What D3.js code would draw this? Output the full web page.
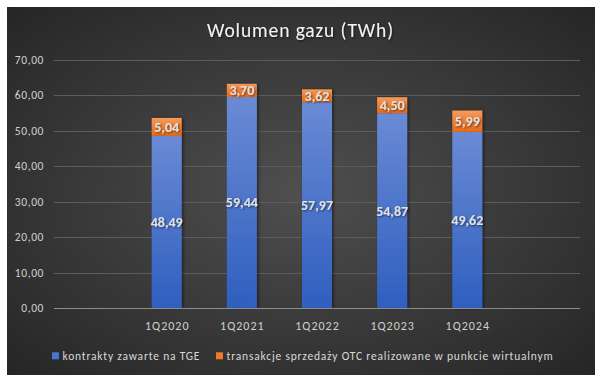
<!DOCTYPE html>
<html><head><meta charset="utf-8">
<script src="https://cdn.jsdelivr.net/npm/d3@7"></script>
<style>html,body{margin:0;padding:0;background:#fff;}svg{display:block;}</style>
</head><body>
<svg id="c" width="604" height="383"></svg>
<script>
const categories = ["", "1Q2020", "1Q2021", "1Q2022", "1Q2023", "1Q2024", " "];
const tgeValues = [null, 48.49, 59.44, 57.97, 54.87, 49.62, null];
const otcValues = [null, 5.04, 3.70, 3.62, 4.50, 5.99, null];
const seriesNames = ["kontrakty zawarte na TGE", "transakcje sprzedaży OTC realizowane w punkcie wirtualnym"];
const yTicks = [0, 10, 20, 30, 40, 50, 60, 70];
const title = "Wolumen gazu (TWh)";

const svg = d3.select("#c");
const defs = svg.append("defs");
const bg = defs.append("radialGradient").attr("id","bg").attr("cx","50%").attr("cy","50%").attr("r","70%");
bg.append("stop").attr("offset","0%").attr("stop-color","#4f4f4f");
bg.append("stop").attr("offset","100%").attr("stop-color","#262626");
const gb = defs.append("linearGradient").attr("id","gb").attr("x1",0).attr("y1",0).attr("x2",0).attr("y2",1);
gb.append("stop").attr("offset","0%").attr("stop-color","#6a8ad4");
gb.append("stop").attr("offset","100%").attr("stop-color","#2f5fbf");
const go = defs.append("linearGradient").attr("id","go").attr("x1",0).attr("y1",0).attr("x2",0).attr("y2",1);
go.append("stop").attr("offset","0%").attr("stop-color","#f59a5a");
go.append("stop").attr("offset","100%").attr("stop-color","#e86a18");
const sh = defs.append("filter").attr("id","sh").attr("x","-20%").attr("y","-20%").attr("width","140%").attr("height","160%");
sh.append("feDropShadow").attr("dx",1).attr("dy",1).attr("stdDeviation",1).attr("flood-color","#000").attr("flood-opacity",0.6);
const bsh = defs.append("filter").attr("id","bsh").attr("x","-30%").attr("y","-10%").attr("width","160%").attr("height","120%");
bsh.append("feDropShadow").attr("dx",1.5).attr("dy",0).attr("stdDeviation",1.5).attr("flood-color","#000").attr("flood-opacity",0.5);

svg.append("rect").attr("x",7).attr("y",7).attr("width",588).attr("height",368).attr("fill","url(#bg)");

const font = "Calibri, Carlito, Lato, 'Open Sans', sans-serif";

svg.append("text").attr("x",300.5).attr("y",37.3).attr("text-anchor","middle")
  .attr("font-family",font).attr("font-size",19.5).attr("letter-spacing",0.9).attr("fill","#f2f2f2")
  .attr("filter","url(#sh)").text(title);

const x = d3.scaleBand().domain(categories).range([54,580]).paddingInner(0).paddingOuter(0);
const y = d3.scaleLinear().domain([0,70]).range([308,59.5]);

// grid
svg.append("g").selectAll("line").data(yTicks.filter(d=>d>0)).join("line")
  .attr("x1",54).attr("x2",580).attr("y1",d=>Math.round(y(d))+0.5).attr("y2",d=>Math.round(y(d))+0.5)
  .attr("stroke","#5c5c5c").attr("stroke-width",1);

// y axis labels
const yAxis = d3.axisLeft(y).tickValues(yTicks).tickSize(0).tickPadding(0)
  .tickFormat(d=>d3.format(".2f")(d).replace(".",","));
const yg = svg.append("g").attr("transform","translate(44,0)").call(yAxis);
yg.select(".domain").remove();
yg.selectAll("text").attr("font-family",font).attr("font-size",11.5).attr("letter-spacing",0.6).attr("fill","#d0d0d0");

const bw = 30;
const idx = d3.range(categories.length).filter(i=>tgeValues[i]!=null);
const cx = i => x(categories[i]) + x.bandwidth()/2;

const bars = svg.append("g").attr("filter","url(#bsh)");
bars.selectAll("rect.t").data(idx).join("rect").attr("class","t")
  .attr("x",i=>cx(i)-bw/2).attr("width",bw)
  .attr("y",i=>y(tgeValues[i])).attr("height",i=>y(0)-y(tgeValues[i]))
  .attr("fill","url(#gb)");
bars.selectAll("rect.o").data(idx).join("rect").attr("class","o")
  .attr("x",i=>cx(i)-bw/2).attr("width",bw)
  .attr("y",i=>y(tgeValues[i]+otcValues[i])).attr("height",i=>y(tgeValues[i])-y(tgeValues[i]+otcValues[i]))
  .attr("fill","url(#go)");

// axis line
svg.append("line").attr("x1",54).attr("x2",580).attr("y1",308.5).attr("y2",308.5)
  .attr("stroke","#8c8c8c").attr("stroke-width",1);

const fmt = v => d3.format(".2f")(v).replace(".",",");
const lab = svg.append("g").attr("font-family",font).attr("font-weight","bold").attr("font-size",14)
  .attr("fill","#e0e0e0").attr("text-anchor","middle").attr("filter","url(#sh)");
lab.selectAll("text.t").data(idx).join("text").attr("class","t")
  .attr("x",cx).attr("y",i=>y(tgeValues[i]/2)+5).text(i=>fmt(tgeValues[i]));
lab.selectAll("text.o").data(idx).join("text").attr("class","o")
  .attr("x",cx).attr("y",i=>y(tgeValues[i]+otcValues[i]/2)+5).text(i=>fmt(otcValues[i]));

// x axis labels
const xAxis = d3.axisBottom(x).tickSize(0).tickPadding(0);
const xg = svg.append("g").attr("transform","translate(0.5,330)").call(xAxis);
xg.select(".domain").remove();
xg.selectAll("text").attr("font-family",font).attr("font-size",12).attr("letter-spacing",1)
  .attr("fill","#d0d0d0").attr("dy","0");

// legend
const leg = svg.append("g").attr("font-family",font).attr("font-size",11.5).attr("letter-spacing",0.8).attr("fill","#d8d8d8");
const legItems = [{n:seriesNames[0], c:"#4a74d0", x:52},{n:seriesNames[1], c:"#f07a2a", x:216}];
legItems.forEach(d=>{
  leg.append("rect").attr("x",d.x).attr("y",352.3).attr("width",7).attr("height",7).attr("fill",d.c);
  leg.append("text").attr("x",d.x+10.5).attr("y",360).text(d.n);
});
</script>
</body></html>
